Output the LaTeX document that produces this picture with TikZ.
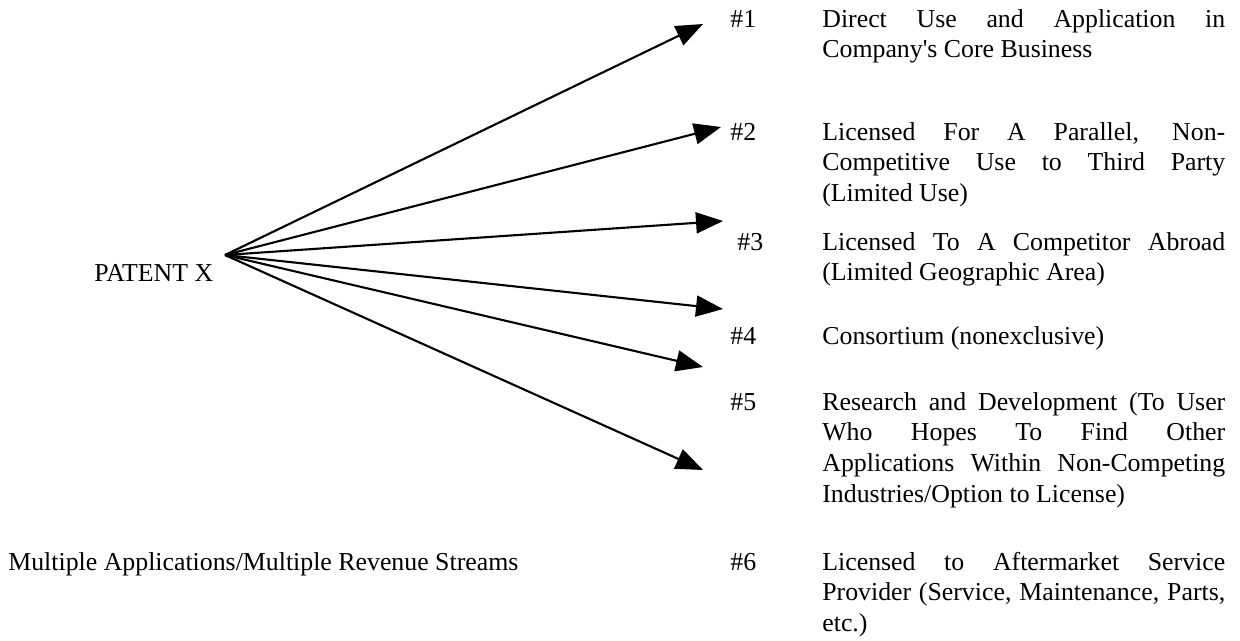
\documentclass[tikz,border=0pt]{standalone}
\usepackage{fontspec}
\setmainfont{Liberation Serif}
\usetikzlibrary{arrows.meta}

\begin{document}
\begin{tikzpicture}[x=0.02cm, y=-0.02cm,
        font=\fontsize{14.7}{17.6}\selectfont,
        flow/.style={-{Triangle[length=0.54cm,width=0.42cm]}, line width=1.2pt},
        num/.style={anchor=base west, inner sep=0pt},
        item/.style={anchor=base west, inner sep=0pt, text width=8.06cm, align=justify,
            execute at begin node={\tolerance=10000\hbadness=10000}}]
    \useasboundingbox (0,0) rectangle (1240,640);

    \node[num] (patent) at (94,281) {PATENT X};
    \node[num] (streams) at (8,570) {Multiple Applications/Multiple Revenue Streams};

    \node[num] (n1) at (730,27) {\#1};
    \node[num] (n2) at (730,140) {\#2};
    \node[num] (n3) at (737,250) {\#3};
    \node[num] (n4) at (730,344) {\#4};
    \node[num] (n5) at (730,410) {\#5};
    \node[num] (n6) at (730,570) {\#6};

    \node[item] (use1) at (822,27) {Direct Use and Application in\linebreak Company\textquotesingle s Core Business};
    \node[item] (use2) at (822,140) {Licensed For A Parallel, Non-\linebreak Competitive Use to Third Party\linebreak (Limited Use)};
    \node[item] (use3) at (822,250) {Licensed To A Competitor Abroad\linebreak (Limited Geographic Area)};
    \node[item] (use4) at (822,344) {Consortium (nonexclusive)};
    \node[item] (use5) at (822,410) {Research and Development (To User\linebreak Who Hopes To Find Other\linebreak Applications Within Non-Competing\linebreak Industries/Option to License)};
    \node[item] (use6) at (822,570) {Licensed to Aftermarket Service\linebreak Provider (Service, Maintenance, Parts,\linebreak etc.)};

    % arrows fan out from one point
    \coordinate (src) at (225,255);
    \coordinate (t1) at (703,24);
    \coordinate (t2) at (721,127);
    \coordinate (t3) at (723,221);
    \coordinate (t4) at (723,309);
    \coordinate (t5) at (703,367);
    \coordinate (t6) at (703,470);
    \foreach \t in {t1,t2,t3,t4,t5,t6}{
        \draw[flow] (src) -- (\t);
    }
\end{tikzpicture}
\end{document}
